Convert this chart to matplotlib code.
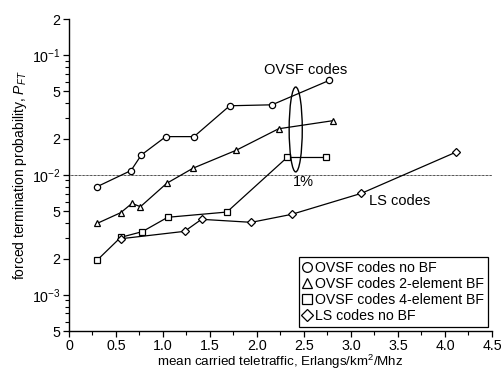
import numpy as np
import matplotlib
matplotlib.use("Agg")
import matplotlib.pyplot as plt
from matplotlib.patches import Ellipse
from matplotlib.ticker import FixedLocator, FixedFormatter, MultipleLocator

plt.rcParams['font.family'] = ['Liberation Sans', 'DejaVu Sans']
plt.rcParams['mathtext.fontset'] = 'custom'
plt.rcParams['mathtext.rm'] = 'Liberation Sans'
plt.rcParams['mathtext.it'] = 'Liberation Sans:italic'

# data
ovsf_nobf_x = [0.30, 0.66, 0.77, 1.03, 1.33, 1.71, 2.16, 2.77]
ovsf_nobf_y = [0.0080, 0.0109, 0.0147, 0.0209, 0.0209, 0.0378, 0.0385, 0.0616]
ovsf_2bf_x = [0.30, 0.55, 0.67, 0.76, 1.04, 1.32, 1.78, 2.23, 2.81]
ovsf_2bf_y = [0.00395, 0.00485, 0.0058, 0.00544, 0.00853, 0.0114, 0.0161, 0.0243, 0.0284]
ovsf_4bf_x = [0.30, 0.55, 0.78, 1.05, 1.68, 2.32, 2.73]
ovsf_4bf_y = [0.00195, 0.00302, 0.00337, 0.00444, 0.00491, 0.0140, 0.0140]
ls_nobf_x = [0.55, 1.23, 1.41, 1.94, 2.37, 3.11, 4.12]
ls_nobf_y = [0.00294, 0.00339, 0.00427, 0.00403, 0.0047, 0.00703, 0.01555]

labels = ["OVSF codes no BF", "OVSF codes 2-element BF",
          "OVSF codes 4-element BF", "LS codes no BF"]

ytick_vals = [5e-4, 1e-3, 2e-3, 5e-3, 1e-2, 2e-2, 5e-2, 1e-1, 2e-1]
ytick_labels = ["5", r"$10^{-3}$", "2", "5", r"$10^{-2}$", "2", "5", r"$10^{-1}$", "2"]
xtick_vals = [0, 0.5, 1.0, 1.5, 2.0, 2.5, 3.0, 3.5, 4.0, 4.5]
xtick_labels = ["0", "0.5", "1.0", "1.5", "2.0", "2.5", "3.0", "3.5", "4.0", "4.5"]

fig = plt.figure(figsize=(5.01, 3.72), dpi=100)
ax = fig.add_axes([0.1377, 0.1102, 0.982 - 0.1377, 0.9489 - 0.1102])

ax.set_yscale('log')
ax.set_xlim(0, 4.5)
ax.set_ylim(5e-4, 2e-1)

series = [
    (ovsf_nobf_x, ovsf_nobf_y, 'o'),
    (ovsf_2bf_x, ovsf_2bf_y, '^'),
    (ovsf_4bf_x, ovsf_4bf_y, 's'),
    (ls_nobf_x, ls_nobf_y, 'D'),
]
handles = []
for (xs, ys, m), lab in zip(series, labels):
    ms = 4.5 if m != 'D' else 4.0
    ax.plot(xs, ys, color='black', lw=0.9, marker=m, ms=ms, mfc='white',
            mec='black', mew=0.9, zorder=3)
    h, = ax.plot([], [], ls='none', marker=m, ms=7 if m != 'D' else 6.5,
                 mfc='white', mec='black', mew=0.9, label=lab)
    handles.append(h)

ax.axhline(0.01, color='black', lw=0.7, ls=(0, (0.7, 0.7)), zorder=1)

ell = Ellipse((0.536, 0.646), 0.031, 0.272, transform=ax.transAxes,
              fill=False, ec='black', lw=1.0, zorder=4)
ax.add_patch(ell)

fs = 10.5
ax.text(2.52, 0.0751, "OVSF codes", fontsize=fs, ha='center', va='center')
ax.text(2.49, 0.0087, "1%", fontsize=fs, ha='center', va='center')
ax.text(3.19, 0.0061, "LS codes", fontsize=fs, ha='left', va='center')

ax.yaxis.set_major_locator(FixedLocator(ytick_vals))
ax.yaxis.set_major_formatter(FixedFormatter(ytick_labels))
minor = []
for d in [1e-4, 1e-3, 1e-2, 1e-1]:
    for k in [3, 4, 6, 7, 8, 9]:
        v = k * d
        if 5e-4 < v < 2e-1:
            minor.append(v)
ax.yaxis.set_minor_locator(FixedLocator(minor))
ax.yaxis.set_minor_formatter(FixedFormatter([""] * len(minor)))

ax.xaxis.set_major_locator(FixedLocator(xtick_vals))
ax.xaxis.set_major_formatter(FixedFormatter(xtick_labels))
ax.xaxis.set_minor_locator(MultipleLocator(0.25))

ax.tick_params(which='major', direction='out', length=4, width=0.9, labelsize=10.3, pad=2)
ax.tick_params(axis='x', which='major', pad=1.5)
ax.tick_params(which='minor', direction='out', length=3, width=0.8)

for s in ['top', 'right']:
    ax.spines[s].set_visible(False)
for s in ['left', 'bottom']:
    ax.spines[s].set_linewidth(1.0)

ax.set_xlabel("mean carried teletraffic, Erlangs/km$^2$/Mhz", fontsize=9.6, labelpad=0)
ax.set_ylabel("forced termination probability, $P_{FT}$", fontsize=10, labelpad=2)

leg = ax.legend(handles=handles, loc='lower right', fontsize=10.2, frameon=True,
                fancybox=False, edgecolor='black', framealpha=1,
                handlelength=0.6, handletextpad=0.3, borderpad=0.25,
                labelspacing=0.15, borderaxespad=0.3)
leg.get_frame().set_linewidth(0.9)

fig.savefig("out.png", dpi=100)
